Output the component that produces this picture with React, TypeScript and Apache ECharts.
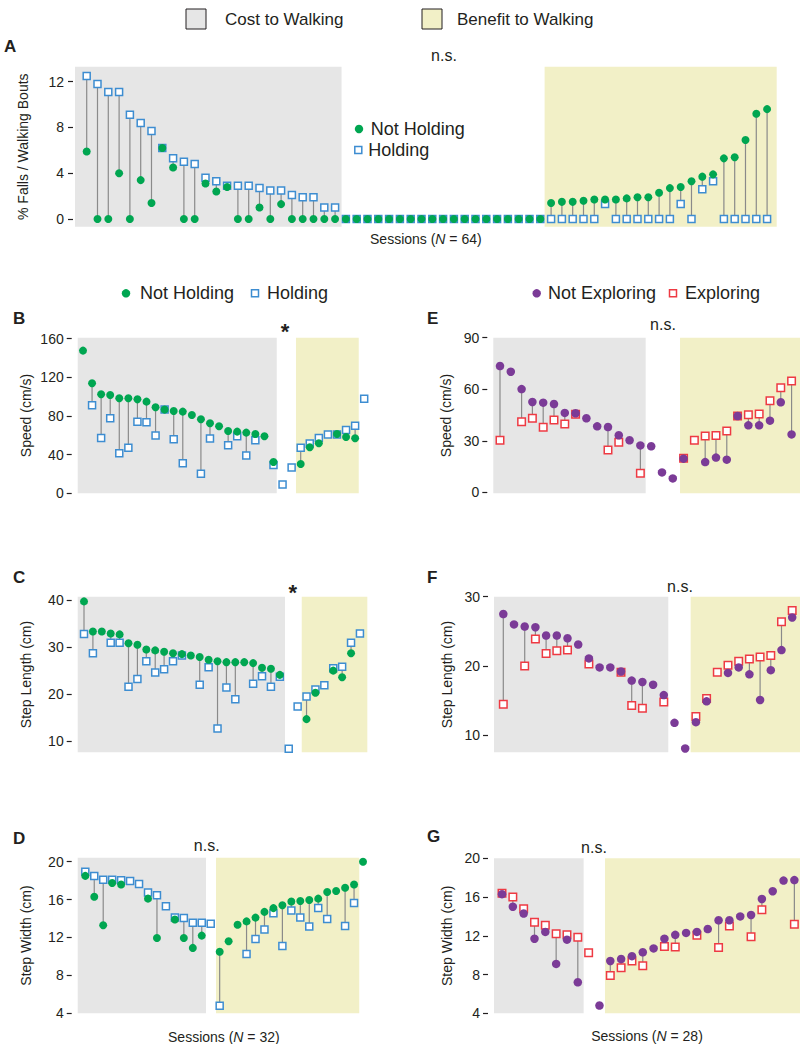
import React, { useEffect, useRef } from "react";
import * as echarts from "echarts";

// ---------- DATA ----------
// Panel A: % falls / walking bouts (64 sessions)
const fallsNotHolding = [
  5.9, 0, 0, 4.0, 0, 3.4, 1.4, 6.2, 4.5, 0, 0, 3.1, 2.4, 2.8, 0, 0, 1.0, 0, 1.3, 0, 0, 0, 0, 0,
  0, 0, 0, 0, 0, 0, 0, 0, 0, 0, 0, 0, 0, 0, 0, 0, 0, 0, 0,
  1.4, 1.5, 1.5, 1.6, 1.7, 1.7, 1.7, 1.8, 1.9, 1.9, 2.3, 2.7, 2.8, 3.3, 3.7, 3.9, 5.3, 5.4, 6.9, 9.2, 9.6,
];
const fallsHolding = [
  12.5, 11.8, 11.1, 11.1, 9.1, 8.4, 7.7, 6.2, 5.3, 5.0, 4.8, 3.6, 3.3, 2.9, 2.9, 2.9, 2.7, 2.5, 2.5, 2.1, 1.9, 1.9, 1.0, 1.0,
  0, 0, 0, 0, 0, 0, 0, 0, 0, 0, 0, 0, 0, 0, 0, 0, 0, 0, 0,
  0, 0, 0, 0, 0, 1.3, 0, 0, 0, 0, 0, 0, 1.3, 0, 2.6, 3.3, 0, 0, 0, 0, 0,
];

// Panel B: speed (cm/s), holding (32 sessions)
const speedNotHolding = [
  147.6, 113.8, 102.4, 101.7, 98.3, 98.3, 97.2, 94.8, 89.0, 86.6, 85.2, 84.5, 81.0, 76.6, 72.4, 69.3,
  64.5, 63.8, 62.8, 61.4, 59.0, 32.4, null, null, 30.3, 47.6, 51.7, null, 61.4, 58.3, 56.9, null,
];
const speedHolding = [
  null, 91.0, 57.2, 77.6, 41.4, 47.2, 74.1, 73.4, 59.7, 86.6, 55.9, 31.0, null, 20.3, 56.6, null,
  49.7, 59.0, 39.0, 54.8, null, 29.3, 9.0, 26.6, 47.2, 51.4, 57.2, 60.7, 60.7, 65.5, 70.0, 97.9,
];

// Panel C: step length (cm), holding
const stepLengthNotHolding = [
  39.7, 33.3, 33.3, 32.9, 32.7, 30.8, 30.5, 29.5, 29.3, 29.0, 28.7, 28.5, 28.2, 27.9, 27.3, 27.0,
  26.8, 26.8, 26.8, 26.6, 25.6, 25.4, 24.1, null, null, 14.7, 20.3, null, 25.0, 23.6, 28.7, null,
];
const stepLengthHolding = [
  32.8, 28.7, null, 30.9, 30.9, 21.6, 23.2, 27.0, 24.6, 25.3, 27.0, 28.2, null, 22.0, 25.7, 12.7,
  21.4, 18.9, null, 22.2, 23.8, 21.6, 23.7, 8.4, 17.4, 19.5, 21.0, 21.9, 25.5, 25.8, 30.9, 32.9,
];

// Panel D: step width (cm), holding
const stepWidthNotHolding = [
  18.5, 16.3, 13.3, 17.75, 17.6, null, null, 16.1, 11.95, null, 13.9, 11.95, 10.9, 12.2, null, 10.5,
  11.6, 13.35, 13.7, 14.1, 14.7, 15.1, 15.4, 15.8, 15.85, 15.95, 16.1, 16.8, 16.9, 17.25, 17.6, 20.0,
];
const stepWidthHolding = [
  18.95, 18.5, 18.1, 18.1, 18.05, 17.95, 17.65, 16.75, 16.45, 15.3, 14.1, 14.05, 13.55, 13.55, 13.45, 4.8,
  null, null, 10.25, 11.85, 12.85, 14.55, 11.1, 14.85, 14.1, 13.15, 15.1, 13.95, null, 13.2, 15.65, null,
];

// Panel E: speed (cm/s), exploring (28 sessions)
const speedNotExploring = [
  73.5, 70.2, 60.1, 52.6, 52.2, 51.4, 46.2, 46.0, 43.1, 38.4, 38.0, 33.2, 30.3, 27.3,
  26.8, 11.6, 8.1, 19.6, null, 17.6, 20.2, 19.0, 44.4, 39.0, 39.0, 41.7, 52.4, 33.7,
];
const speedExploring = [
  30.3, null, 41.1, 43.1, 37.8, 42.1, 39.8, 45.4, null, null, 24.6, 29.1, null, 11.1,
  null, null, null, 19.8, 30.3, 32.8, 33.0, 35.7, 44.4, 45.2, 45.6, 53.3, 60.9, 64.8,
];

// Panel F: step length (cm), exploring
const stepLengthNotExploring = [
  27.5, 26.0, 25.7, 25.6, 24.4, 24.4, 24.0, 23.1, 21.1, 19.8, 19.8, 19.2, 17.9, 17.7,
  17.3, 15.8, 11.8, 8.1, 11.9, 14.9, null, 19.0, 19.8, 18.8, 15.1, 19.4, 22.3, 27.0,
];
const stepLengthExploring = [
  14.5, null, 20.0, 23.9, 21.8, 22.2, 22.3, null, 20.3, null, null, 19.1, 14.3, 13.9,
  null, 14.8, null, null, 12.7, 15.3, 19.1, 20.1, 20.7, 21.0, 21.3, 21.5, 26.4, 28.0,
];

// Panel G: step width (cm), exploring
const stepWidthNotExploring = [
  16.3, 15.0, 14.3, 11.7, 12.4, 9.1, 11.6, 7.2, null, 4.8, 9.4, 9.6, 9.9, 10.3,
  10.7, 11.7, 12.1, 12.3, 12.4, 12.7, 13.6, 13.6, 14.0, 14.15, 15.8, 16.6, 17.7, 17.75,
];
const stepWidthExploring = [
  16.4, 16.0, 14.8, 13.4, 13.1, 12.2, 12.1, 11.85, 10.25, null, 7.9, 8.7, 9.4, 8.9,
  null, 10.9, 10.85, null, 12.05, null, 10.8, 13.0, null, 11.9, 14.7, null, null, 13.2,
];

// Tick labels
const ticksFalls = [0, 4, 8, 12];
const ticksSpeedHold = [0, 40, 80, 120, 160];
const ticksStepLenHold = [10, 20, 30, 40];
const ticksStepWidth = [4, 8, 12, 16, 20];
const ticksSpeedExpl = [0, 30, 60, 90];
const ticksStepLenExpl = [10, 20, 30];

// ---------- STYLE ----------
const GREEN = "#00a651";
const BLUE = "#3d8dd1";
const PURPLE = "#7b3b97";
const RED = "#ee3a43";
const GRAY_BG = "#e6e6e6";
const YELLOW_BG = "#f2f0c7";
const LINK = "#8a8a8a";
const INK = "#231f20";
const FONT = "'Liberation Sans', Arial, Helvetica, sans-serif";

const panels = [
  { grid: [75, 66.7, 701.7, 160], x: [-1.083, 63.89], y: [-0.673, 13.31], ticks: ticksFalls,
    gray: [-1.083, 23.6], yellow: [42.4, 63.89], offset: 2, margin: 9,
    yName: "% Falls / Walking Bouts", yNameGap: 43, xName: "64", xNameGap: 5,
    circles: fallsNotHolding, squares: fallsHolding, cColor: GREEN, sColor: BLUE, cSize: 8, sSize: 7 },
  { grid: [77.7, 337.7, 292.3, 155.6], x: [-0.584, 31.64], y: [0, 160.96], ticks: ticksSpeedHold,
    gray: [-0.584, 21.36], yellow: [23.48, 30.4], offset: 6, margin: 8,
    yName: "Speed (cm/s)", yNameGap: 38.7,
    circles: speedNotHolding, squares: speedHolding, cColor: GREEN, sColor: BLUE, cSize: 8, sSize: 7 },
  { grid: [77.7, 596.7, 292.3, 155.6], x: [-0.708, 32.13], y: [7.66, 40.7], ticks: ticksStepLenHold,
    gray: [-0.708, 22.58], yellow: [24.46, 31.83], offset: 6, margin: 8,
    yName: "Step Length (cm)", yNameGap: 38.7,
    circles: stepLengthNotHolding, squares: stepLengthHolding, cColor: GREEN, sColor: BLUE, cSize: 8, sSize: 7 },
  { grid: [77.7, 857.7, 292.3, 155.6], x: [-0.848, 31.78], y: [4, 20.42], ticks: ticksStepWidth,
    gray: [-0.848, 13.47], yellow: [14.59, 30.58], offset: 6, margin: 8,
    yName: "Step Width (cm)", yNameGap: 38.7, xName: "32", xNameGap: 17,
    circles: stepWidthNotHolding, squares: stepWidthHolding, cColor: GREEN, sColor: BLUE, cSize: 8, sSize: 7 },
  { grid: [493.3, 337.7, 306.7, 155.6], x: [-0.62, 27.78], y: [-0.58, 90], ticks: ticksSpeedExpl,
    gray: [-0.62, 13.49], yellow: [16.67, 27.78], offset: 6, margin: 8,
    yName: "Speed (cm/s)", yNameGap: 34,
    circles: speedNotExploring, squares: speedExploring, cColor: PURPLE, sColor: RED, cSize: 8.5, sSize: 7.5 },
  { grid: [494, 596.7, 306, 155.6], x: [-0.87, 27.73], y: [7.55, 30], ticks: ticksStepLenExpl,
    gray: [-0.87, 15.42], yellow: [17.51, 27.73], offset: 6, margin: 8,
    yName: "Step Length (cm)", yNameGap: 34,
    circles: stepLengthNotExploring, squares: stepLengthExploring, cColor: PURPLE, sColor: RED, cSize: 8.5, sSize: 7.5 },
  { grid: [494, 858.3, 306, 155], x: [-0.74, 27.52], y: [4, 20], ticks: ticksStepWidth,
    gray: [-0.74, 7.54], yellow: [9.51, 27.52], offset: 6, margin: 8,
    yName: "Step Width (cm)", yNameGap: 34, xName: "28", xNameGap: 16,
    circles: stepWidthNotExploring, squares: stepWidthExploring, cColor: PURPLE, sColor: RED, cSize: 8.5, sSize: 7.5 },
];

const pts = (arr: (number | null)[]) =>
  arr.map((v, i) => (v == null ? null : [i, v])).filter((d) => d !== null);
const links = (a: (number | null)[], b: (number | null)[]) =>
  a
    .map((v, i) => (v != null && b[i] != null && v !== b[i] ? [i, v, b[i]] : null))
    .filter((d) => d !== null);

const txt = (text: string, x: number, y: number, size: number, opts: any = {}) => ({
  type: "text",
  x,
  y,
  silent: true,
  style: {
    text,
    fontSize: size,
    fontFamily: FONT,
    fontWeight: opts.bold ? "bold" : "normal",
    fill: INK,
    align: opts.align || "left",
    verticalAlign: "middle",
  },
});
const dot = (cx: number, cy: number, color: string) => ({
  type: "circle",
  silent: true,
  shape: { cx, cy, r: 4.2 },
  style: { fill: color },
});
const box = (cx: number, cy: number, color: string) => ({
  type: "rect",
  silent: true,
  shape: { x: cx - 3.5, y: cy - 3.5, width: 7, height: 7 },
  style: { fill: "#ffffff", stroke: color, lineWidth: 1.5 },
});

function buildOption() {
  const grid: any[] = [];
  const xAxis: any[] = [];
  const yAxis: any[] = [];
  const series: any[] = [];

  panels.forEach((p: any, i) => {
    grid.push({ left: p.grid[0], top: p.grid[1], width: p.grid[2], height: p.grid[3], outerBoundsMode: "none" });
    xAxis.push({
      type: "value",
      gridIndex: i,
      min: p.x[0],
      max: p.x[1],
      axisLine: { show: false, onZero: false },
      axisTick: { show: false },
      axisLabel: { show: false },
      splitLine: { show: false },
      name: p.xName ? `{t|Sessions (}{i|N}{t| = ${p.xName})}` : "",
      nameLocation: "middle",
      nameGap: p.xNameGap || 0,
      nameTextStyle: {
        rich: {
          t: { fontSize: 14, fontFamily: FONT, color: INK },
          i: { fontSize: 14, fontFamily: FONT, color: INK, fontStyle: "italic" },
        },
      },
    });
    yAxis.push({
      type: "value",
      gridIndex: i,
      min: p.y[0],
      max: p.y[1],
      offset: p.offset,
      axisLine: { show: true, onZero: false, lineStyle: { color: "rgba(0,0,0,0)", width: 1 } },
      axisTick: { show: true, inside: false, length: 5, lineStyle: { color: INK, width: 1.2, opacity: 1 }, customValues: p.ticks },
      axisLabel: { show: true, customValues: p.ticks, fontSize: 14, fontFamily: FONT, color: INK, margin: p.margin },
      splitLine: { show: false },
      name: p.yName,
      nameLocation: "middle",
      nameGap: p.yNameGap,
      nameTextStyle: { fontSize: 14, fontFamily: FONT, color: INK },
    });
    series.push({
      type: "custom",
      xAxisIndex: i,
      yAxisIndex: i,
      z: 2,
      silent: true,
      clip: false,
      data: links(p.circles, p.squares),
      encode: { x: 0, y: [1, 2] },
      renderItem: (_params: any, api: any) => {
        const x = api.value(0);
        const a = api.coord([x, api.value(1)]);
        const b = api.coord([x, api.value(2)]);
        return {
          type: "line",
          shape: { x1: a[0], y1: a[1], x2: b[0], y2: b[1] },
          style: { stroke: LINK, lineWidth: 1.2 },
        };
      },
    });
    series.push({
      type: "scatter",
      xAxisIndex: i,
      yAxisIndex: i,
      z: 3,
      silent: true,
      clip: false,
      symbol: "rect",
      symbolSize: p.sSize,
      itemStyle: { color: "#ffffff", borderColor: p.sColor, borderWidth: 1.5, opacity: 1 },
      data: pts(p.squares),
      markArea: {
        silent: true,
        data: [
          [{ xAxis: p.gray[0], itemStyle: { color: GRAY_BG, opacity: 1 } }, { xAxis: p.gray[1] }],
          [{ xAxis: p.yellow[0], itemStyle: { color: YELLOW_BG, opacity: 1 } }, { xAxis: p.yellow[1] }],
        ],
      },
    });
    series.push({
      type: "scatter",
      xAxisIndex: i,
      yAxisIndex: i,
      z: 4,
      silent: true,
      clip: false,
      symbol: "circle",
      symbolSize: p.cSize,
      itemStyle: { color: p.cColor, opacity: 1 },
      data: pts(p.circles),
    });
  });

  const graphic: any[] = [
    // top legend
    { type: "rect", silent: true, shape: { x: 186, y: 9, width: 20, height: 20 }, style: { fill: GRAY_BG, stroke: INK, lineWidth: 1 } },
    txt("Cost to Walking", 225, 19, 17),
    { type: "rect", silent: true, shape: { x: 422, y: 9, width: 20, height: 20 }, style: { fill: YELLOW_BG, stroke: INK, lineWidth: 1 } },
    txt("Benefit to Walking", 457, 19, 17),
    // panel letters
    txt("A", 4, 46, 17, { bold: true }),
    txt("B", 13, 318, 17, { bold: true }),
    txt("C", 13, 577.5, 17, { bold: true }),
    txt("D", 13, 838, 17, { bold: true }),
    txt("E", 427, 318, 17, { bold: true }),
    txt("F", 427, 577.5, 17, { bold: true }),
    txt("G", 427, 836.7, 17, { bold: true }),
    // significance
    txt("n.s.", 444, 55.5, 16, { align: "center" }),
    txt("*", 285, 331, 22, { align: "center", bold: true }),
    txt("*", 292.7, 592, 22, { align: "center", bold: true }),
    txt("n.s.", 206.7, 845, 16, { align: "center" }),
    txt("n.s.", 663, 324.5, 16, { align: "center" }),
    txt("n.s.", 680, 586, 16, { align: "center" }),
    txt("n.s.", 594, 847.8, 16, { align: "center" }),
    // legend inside A
    dot(359, 129, GREEN),
    txt("Not Holding", 370.7, 129, 18),
    box(358.3, 150, BLUE),
    txt("Holding", 368.3, 150, 18),
    // legend above B
    dot(126, 293.3, GREEN),
    txt("Not Holding", 140, 293.3, 18),
    box(255, 293.3, BLUE),
    txt("Holding", 267, 293.3, 18),
    // legend above E
    dot(536.7, 293.3, PURPLE),
    txt("Not Exploring", 548, 293.3, 18),
    box(673, 293.3, RED),
    txt("Exploring", 685, 293.3, 18),
  ];

  return {
    animation: false,
    backgroundColor: "#ffffff",
    textStyle: { fontFamily: FONT },
    grid,
    xAxis,
    yAxis,
    series,
    graphic,
  };
}

export default function App() {
  const ref = useRef<HTMLDivElement>(null);
  useEffect(() => {
    if (!ref.current) return;
    const chart = echarts.init(ref.current, undefined, { renderer: "svg" });
    chart.setOption(buildOption() as any);
    return () => chart.dispose();
  }, []);
  return (
    <div
      ref={ref}
      style={{ position: "absolute", left: 0, top: 0, width: 800, height: 1044 }}
    />
  );
}
